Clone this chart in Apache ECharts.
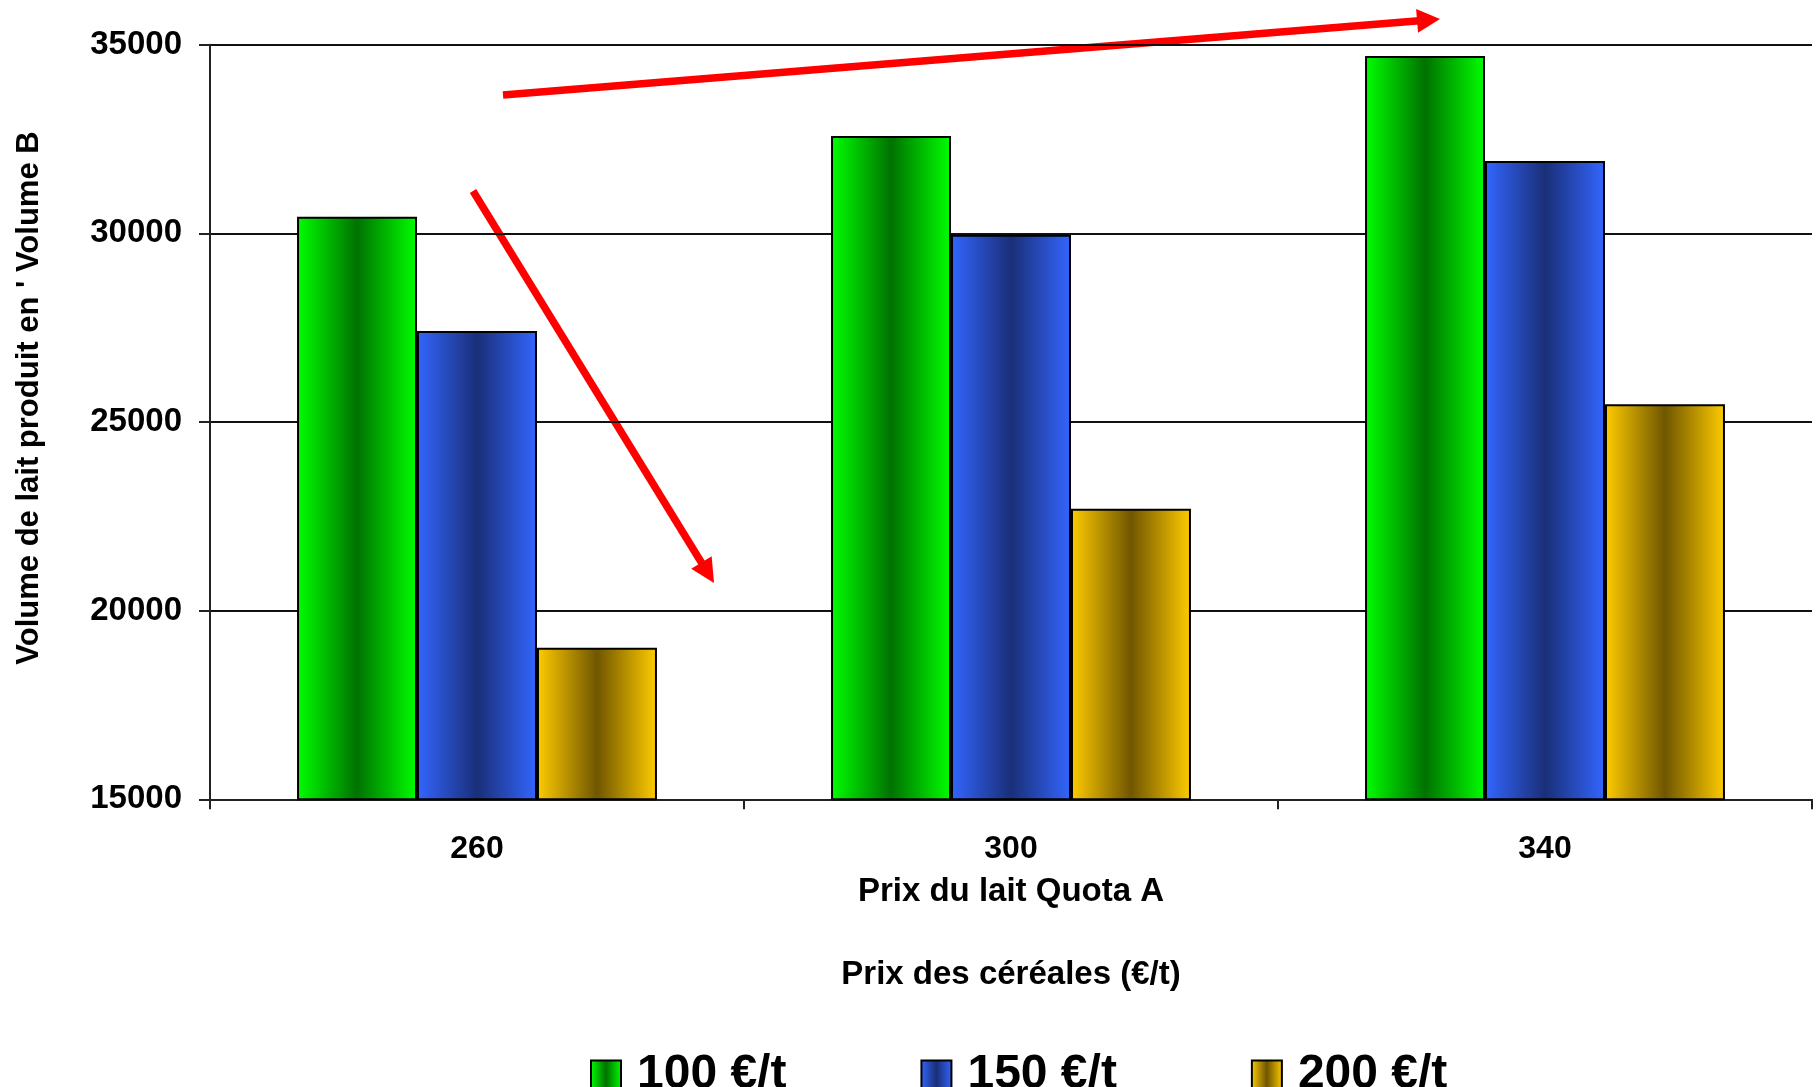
<!DOCTYPE html>
<html>
<head>
<meta charset="utf-8">
<script src="https://cdn.jsdelivr.net/npm/echarts@6/dist/echarts.min.js"></script>
<style>
html,body{margin:0;padding:0;background:#fff;}
#chart{width:1818px;height:1087px;}
</style>
</head>
<body>
<div id="chart"></div>
<script>
// ---- data ----
const categories = ['260', '300', '340'];
const seriesNames = ['100 €/t', '150 €/t', '200 €/t'];
const values100 = [30440, 32580, 34700];
const values150 = [27410, 29960, 31920];
const values200 = [19020, 22700, 25470];
const yMin = 15000;
const yMax = 35000;
const yInterval = 5000;
const xAxisTitle = 'Prix du lait Quota A';
const subTitle = 'Prix des céréales (€/t)';
const yAxisTitle = "Volume de lait produit en ' Volume B";

// ---- styles ----
const FONT = '"Liberation Sans", Arial, sans-serif';
function grad(edge, mid) {
  return {
    type: 'linear', x: 0, y: 0, x2: 1, y2: 0,
    colorStops: [
      { offset: 0, color: edge },
      { offset: 0.5, color: mid },
      { offset: 1, color: edge }
    ]
  };
}
const fills = [
  grad('#00ff00', '#007200'),
  grad('#3366ff', '#1a2f78'),
  grad('#ffcc00', '#705600')
];

function arrow(x1, y1, x2, y2, w, hl, hw) {
  const dx = x2 - x1, dy = y2 - y1;
  const len = Math.sqrt(dx * dx + dy * dy);
  const ux = dx / len, uy = dy / len;
  const px = -uy, py = ux;
  const bx = x2 - ux * hl, by = y2 - uy * hl;
  return [
    { type: 'line', silent: true,
      shape: { x1: x1, y1: y1, x2: bx + ux * 2, y2: by + uy * 2 },
      style: { stroke: '#ff0000', lineWidth: w } },
    { type: 'polygon', silent: true,
      shape: { points: [[x2, y2], [bx + px * hw, by + py * hw], [bx - px * hw, by - py * hw]] },
      style: { fill: '#ff0000' } }
  ];
}

const valueLists = [values100, values150, values200];
const series = seriesNames.map((name, i) => ({
  name: name,
  type: 'bar',
  data: valueLists[i],
  barGap: '0%',
  barCategoryGap: '32.6%',
  itemStyle: { color: fills[i], borderColor: '#000', borderWidth: 2 },
  emphasis: { disabled: true }
}));

const chart = echarts.init(document.getElementById('chart'), null, { renderer: 'canvas' });
chart.setOption({
  animation: false,
  backgroundColor: '#fff',
  grid: { left: 210, right: 6, top: 44.7, bottom: 287.7, containLabel: false, outerBoundsMode: 'none' },
  legend: {
    data: seriesNames,
    left: 585,
    top: 1046,
    icon: 'rect',
    itemWidth: 30,
    itemHeight: 29,
    itemGap: 134,
    textStyle: { fontFamily: FONT, fontWeight: 'bold', fontSize: 48, color: '#000', padding: [0, 0, 0, 11] },
    selectedMode: false
  },
  xAxis: {
    type: 'category',
    data: categories,
    name: xAxisTitle,
    nameLocation: 'middle',
    nameGap: 76,
    nameTextStyle: { fontFamily: FONT, fontWeight: 'bold', fontSize: 33, color: '#000' },
    axisLine: { show: true, lineStyle: { color: '#222', width: 2 } },
    axisTick: { show: true, alignWithLabel: false, length: 10, lineStyle: { color: '#222', width: 2 } },
    axisLabel: { fontFamily: FONT, fontWeight: 'bold', fontSize: 32, color: '#000', margin: 34 },
    splitLine: { show: false }
  },
  yAxis: {
    type: 'value',
    min: yMin,
    max: yMax,
    interval: yInterval,
    axisLine: { show: true, lineStyle: { color: '#222', width: 2 } },
    axisTick: { show: true, inside: false, length: 11, lineStyle: { color: '#222', width: 2 } },
    axisLabel: { fontFamily: FONT, fontWeight: 'bold', fontSize: 33, color: '#000', margin: 28,
      formatter: function (v) { return String(v); } },
    splitLine: { show: true, lineStyle: { color: '#111', width: 2 } }
  },
  graphic: [
    { type: 'text', x: 29, y: 398, rotation: Math.PI / 2, silent: true,
      style: { text: yAxisTitle, font: 'bold 31px ' + FONT, fill: '#000', align: 'center', verticalAlign: 'middle' } },
    { type: 'text', x: 1011, y: 975, silent: true,
      style: { text: subTitle, font: 'bold 33px ' + FONT, fill: '#000', align: 'center', verticalAlign: 'middle' } }
  ].concat(arrow(503, 95, 1440, 19, 7.5, 23, 12)).concat(arrow(473, 191, 714, 583, 7.5, 24, 12)),
  series: series
});
</script>
</body>
</html>
